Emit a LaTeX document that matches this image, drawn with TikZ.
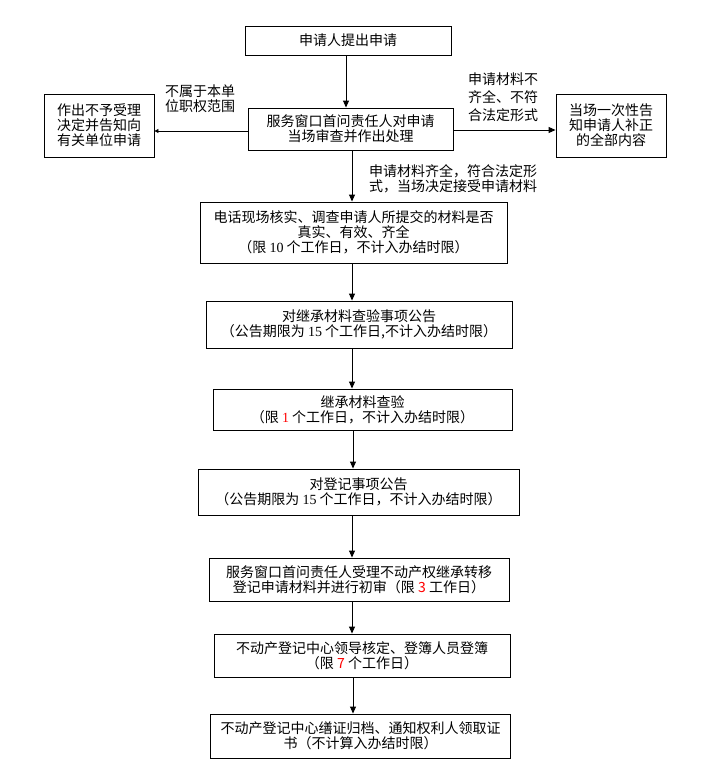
\documentclass[tikz,border=0pt]{standalone}
\usepackage{fontspec}
\setmainfont{Noto Sans CJK SC}
\newfontfamily\numfont{Liberation Serif}
\usetikzlibrary{arrows.meta}
\begin{document}
\begin{tikzpicture}[x=1pt,y=-1pt,
  box/.style 2 args={draw, line width=0.9pt, minimum width=#1, minimum height=#2,
    inner sep=0pt, align=center, font=\fontsize{14}{15}\selectfont},
  lbl/.style={inner sep=0pt, align=left, font=\fontsize{14}{15}\selectfont},
  arr/.style={line width=0.9pt, -{Triangle[length=7pt,width=6pt]}},
  sarr/.style={line width=0.9pt, -{Triangle[length=4pt,width=4pt]}}]
\fill[white] (0,0) rectangle (712,776);
\useasboundingbox (0,0) rectangle (712,776);

\node[box={206}{29}] (b1) at (348,40.5) {申请人提出申请};
\node[box={205}{42}] (b2) at (350.5,129) {服务窗口首问责任人对申请\\当场审查并作出处理};
\node[box={110}{63}] (lb) at (99,125.5) {作出不予受理\\决定并告知向\\有关单位申请};
\node[box={110}{63}] (rb) at (611,125.5) {当场一次性告\\知申请人补正\\的全部内容};
\node[box={307}{61}] (b3) at (353.5,232.5) {电话现场核实、调查申请人所提交的材料是否\\真实、有效、齐全\\（限 {\numfont 10} 个工作日，不计入办结时限）};
\node[box={306}{47}] (b4) at (359,324.5) {对继承材料查验事项公告\\（公告期限为 {\numfont 15} 个工作日,不计入办结时限）};
\node[box={299}{41}] (b5) at (362.5,409.5) {继承材料查验\\（限 \textcolor{red}{\numfont 1} 个工作日，不计入办结时限）};
\node[box={321}{46}] (b6) at (358.5,492) {对登记事项公告\\（公告期限为 {\numfont 15} 个工作日，不计入办结时限）};
\node[box={300}{43}] (b7) at (359,579.5) {服务窗口首问责任人受理不动产权继承转移\\登记申请材料并进行初审（限 \textcolor{red}{3} 工作日）};
\node[box={296}{43}] (b8) at (362,655.5) {不动产登记中心领导核定、登簿人员登簿\\（限 \textcolor{red}{7} 个工作日）};
\node[box={300}{44}] (b9) at (360.5,736) {不动产登记中心缮证归档、通知权利人领取证\\书（不计算入办结时限）};

\node[lbl] (l1) at (200,99) {不属于本单\\位职权范围};
\node[lbl, font=\fontsize{14}{18}\selectfont] (l2) at (503,97) {申请材料不\\齐全、不符\\合法定形式};
\node[lbl] (l3) at (453,179) {申请材料齐全，符合法定形\\式，当场决定接受申请材料};

\coordinate (v1) at (346,0);
\coordinate (v2) at (352,0);
\coordinate (v3) at (353,0);
\coordinate (h1) at (0,131);
\coordinate (h2) at (0,130);

\draw[arr] (b1.south -| v1) -- (b2.north -| v1);
\draw[arr] (b2.south -| v2) -- (b3.north -| v2);
\draw[arr] (b3.south -| v2) -- (b4.north -| v2);
\draw[arr] (b4.south -| v2) -- (b5.north -| v2);
\draw[arr] (b5.south -| v3) -- (b6.north -| v3);
\draw[arr] (b6.south -| v2) -- (b7.north -| v2);
\draw[arr] (b7.south -| v2) -- (b8.north -| v2);
\draw[arr] (b8.south -| v3) -- (b9.north -| v3);
\draw[sarr] (b2.west |- h1) -- (lb.east |- h1);
\draw[arr] (b2.east |- h2) -- (rb.west |- h2);
\end{tikzpicture}
\end{document}
